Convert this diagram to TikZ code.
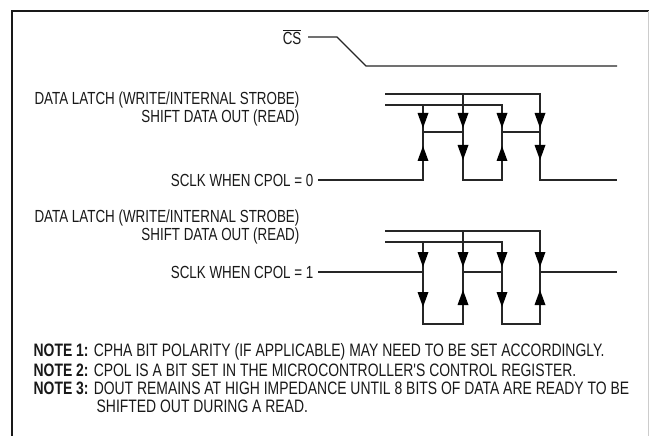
\documentclass[tikz,border=0pt]{standalone}
\usepackage{fontspec}
\setmainfont{Liberation Sans}[FakeStretch=0.765]
\newfontfamily\notefont{Liberation Sans}[FakeStretch=0.774]
\newcommand\arrdn[2]{\fill ({#1-5.5},{#2-15}) -- ({#1+5.5},{#2-15}) -- (#1,#2) -- cycle;}
\newcommand\arrup[2]{\fill ({#1-5.5},{#2+15}) -- ({#1+5.5},{#2+15}) -- (#1,#2) -- cycle;}
\begin{document}
\begin{tikzpicture}[x=1pt,y=-1pt,line width=1.3pt,
  lbl/.style={inner sep=0pt,font=\fontsize{17.5}{18}\selectfont,text=black!90},
  note/.style={inner sep=0pt,font=\notefont\fontsize{18}{18}\selectfont,text=black!90},
  sig/.style={line width=1.3pt,color=black!85}]
\useasboundingbox (0,0) rectangle (649,436);
\fill[white] (0,0) rectangle (649,436);
\draw[line width=2.5pt,color=black!90] (12,436) -- (12,11) -- (649,11);
\draw[black!20,line width=1pt] (648,11) -- (648,436);

% CS
\node[lbl,anchor=east] (cs) at (302,37) {$\overline{\mbox{CS}}$};
\coordinate (cs1) at (337,37);
\coordinate (cs2) at (366,66);
\coordinate (cs3) at (617,66);
\draw[sig] (308,37) -- (cs1) -- (cs2) -- (cs3);

% section 1 labels
\node[lbl,anchor=east] (dl1) at (300,100) {DATA LATCH (WRITE/INTERNAL STROBE)};
\node[lbl,anchor=east] (sd1) at (300,118) {SHIFT DATA OUT (READ)};
\node[lbl,anchor=east] (sc0) at (314,180) {SCLK WHEN CPOL = 0};
% latch lines
\draw[sig] (385,94) -- (540,94) -- (540,132);
\draw[sig] (463,94) -- (463,132);
\draw[sig] (385,105) -- (502,105) -- (502,132);
\draw[sig] (423,105) -- (423,132);
\draw[sig] (318,180) -- (423,180) -- (423,132) -- (463,132) -- (463,180) -- (502,180) -- (502,132) -- (540,132) -- (540,180) -- (617,180);
\arrdn{423}{128}\arrdn{463}{128}\arrdn{502}{128}\arrdn{540}{128}
\arrup{423}{146}\arrdn{463}{160}\arrup{502}{146}\arrdn{540}{160}

% section 2 labels
\node[lbl,anchor=east] (dl2) at (300,218) {DATA LATCH (WRITE/INTERNAL STROBE)};
\node[lbl,anchor=east] (sd2) at (300,236) {SHIFT DATA OUT (READ)};
\node[lbl,anchor=east] (sc1) at (314,272) {SCLK WHEN CPOL = 1};
\draw[sig] (385,231) -- (540,231) -- (540,272);
\draw[sig] (463,231) -- (463,272);
\draw[sig] (385,242) -- (502,242) -- (502,272);
\draw[sig] (423,242) -- (423,272);
\draw[sig] (318,272) -- (423,272) -- (423,324) -- (463,324) -- (463,272) -- (502,272) -- (502,324) -- (540,324) -- (540,272) -- (617,272);
\arrdn{423}{267}\arrdn{463}{267}\arrdn{502}{267}\arrdn{540}{267}
\arrdn{423}{307}\arrup{463}{290}\arrdn{502}{307}\arrup{540}{290}

% notes
\node[note,anchor=west] (n1) at (33,352) {\textbf{NOTE 1:} CPHA BIT POLARITY (IF APPLICABLE) MAY NEED TO BE SET ACCORDINGLY.};
\node[note,anchor=west] (n2) at (33,370) {\textbf{NOTE 2:} CPOL IS A BIT SET IN THE MICROCONTROLLER'S CONTROL REGISTER.};
\node[note,anchor=west] (n3) at (33,388) {\textbf{NOTE 3:} DOUT REMAINS AT HIGH IMPEDANCE UNTIL 8 BITS OF DATA ARE READY TO BE};
\node[note,anchor=west] (n4) at (96,406) {SHIFTED OUT DURING A READ.};
\end{tikzpicture}
\end{document}
